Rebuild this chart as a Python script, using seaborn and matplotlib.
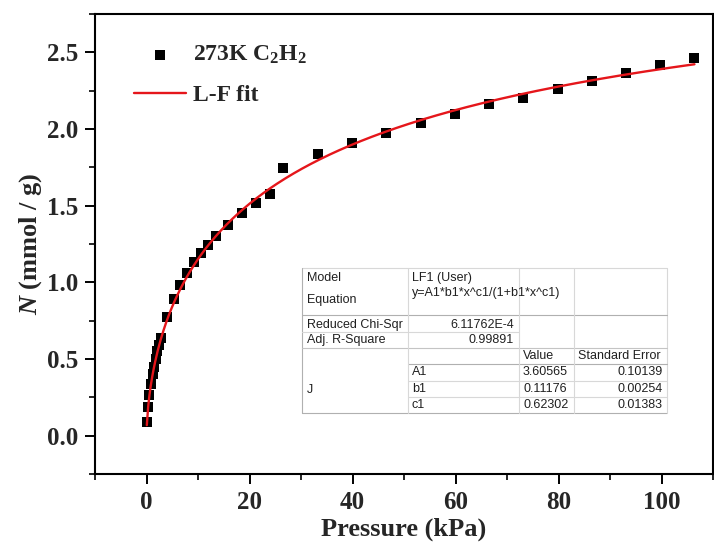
import numpy as np
import pandas as pd
import matplotlib
matplotlib.use("Agg")
import matplotlib.pyplot as plt
import seaborn as sns
from matplotlib.lines import Line2D

# C2H2 adsorption isotherm at 273 K
pressure = [0.06, 0.25, 0.52, 0.90, 1.20, 1.50, 1.80, 2.10, 2.45, 2.80,
            3.9, 5.25, 6.6, 7.95, 9.25, 10.6, 11.95, 13.4, 15.9, 18.5,
            21.3, 23.9, 26.5, 33.3, 39.9, 46.5, 53.3, 59.9, 66.5, 73.2,
            79.9, 86.6, 93.2, 99.8, 106.4]
uptake = [0.087, 0.19, 0.262, 0.34, 0.40, 0.45, 0.50, 0.55, 0.59, 0.635,
          0.773, 0.893, 0.985, 1.063, 1.133, 1.189, 1.245, 1.30, 1.376, 1.45,
          1.515, 1.575, 1.743, 1.834, 1.91, 1.976, 2.038, 2.10, 2.16, 2.205,
          2.263, 2.313, 2.363, 2.417, 2.466]

# Langmuir-Freundlich fit parameters
A1, b1, c1 = 3.60565, 0.11176, 0.62302
A1_err, b1_err, c1_err = 0.10139, 0.00254, 0.01383
chi_sqr = "6.11762E-4"
adj_r2 = "0.99891"

x_ticks = [0, 20, 40, 60, 80, 100]
y_ticks = [0.0, 0.5, 1.0, 1.5, 2.0, 2.5]

sns.set_style("ticks")
plt.rcParams["font.family"] = ["Liberation Serif", "DejaVu Serif"]
plt.rcParams["mathtext.fontset"] = "custom"
plt.rcParams["mathtext.rm"] = "Liberation Serif:bold"
plt.rcParams["mathtext.it"] = "Liberation Serif:italic:bold"
plt.rcParams["mathtext.bf"] = "Liberation Serif:bold"

W, H = 714, 549
fig = plt.figure(figsize=(W / 100, H / 100), dpi=100)
ax = fig.add_axes([95 / W, 1 - 474 / H, (713 - 95) / W, (474 - 14) / H])

df = pd.DataFrame({"P": pressure, "N": uptake})
xs = np.linspace(min(pressure), max(pressure), 400)
u = b1 * xs ** c1
fit = pd.DataFrame({"P": xs, "N": A1 * u / (1 + u)})

sns.scatterplot(data=df, x="P", y="N", marker="s", s=46, color="black",
                edgecolor="black", linewidth=0, ax=ax,
                label=r"273K C$_{2}$H$_{2}$", zorder=2)
sns.lineplot(data=fit, x="P", y="N", color="#e5161b", linewidth=1.7, ax=ax,
             label="L-F fit", zorder=3)

ax.set_xlim(-10, 110)
ax.set_ylim(-0.25, 2.75)
ax.set_xticks(x_ticks)
ax.set_yticks(y_ticks)
ax.set_yticklabels([f"{v:.1f}" for v in y_ticks])
ax.set_xticks(np.arange(-10, 111, 20), minor=True)
ax.set_yticks(np.arange(-0.25, 2.76, 0.5), minor=True)
ax.tick_params(axis="both", which="major", direction="out", length=7, width=1.4,
               labelsize=18, pad=5, color="black")
ax.tick_params(axis="both", which="minor", direction="out", length=4, width=1.2,
               color="black")
for lab in ax.get_xticklabels() + ax.get_yticklabels():
    lab.set_fontweight("bold")
for sp in ax.spines.values():
    sp.set_visible(True)
    sp.set_linewidth(1.5)
    sp.set_color("black")

ax.set_xlabel("Pressure (kPa)", fontsize=19, fontweight="bold", labelpad=3)
ax.set_ylabel(r"$N$ (mmol / g)", fontsize=19, fontweight="bold", labelpad=2)

leg = ax.legend(loc="upper left", bbox_to_anchor=(0.063, 0.935), frameon=False,
                handlelength=2.2, handletextpad=0.3,
                labelspacing=0.78, borderpad=0, borderaxespad=0,
                prop={"weight": "bold", "size": 17})


# Fit report table
def fx(x):
    return x / W


def fy(y):
    return 1 - y / H


def hline(y, x0, x1, color="#d8d8d8", lw=0.8):
    fig.add_artist(Line2D([fx(x0), fx(x1)], [fy(y), fy(y)],
                          transform=fig.transFigure, color=color, lw=lw))


def vline(x, y0, y1, color="#d8d8d8", lw=0.8):
    fig.add_artist(Line2D([fx(x), fx(x)], [fy(y0), fy(y1)],
                          transform=fig.transFigure, color=color, lw=lw))


L, R, T, B = 302, 667, 268, 413
C1, C2, C3 = 408, 519, 574
dark = "#b0b0b0"
fig.add_artist(plt.Rectangle((fx(L), fy(B)), fx(R) - fx(L), fy(T) - fy(B),
                             transform=fig.transFigure, facecolor="white",
                             edgecolor="none", zorder=0.5))
hline(T, L, R)
hline(B, L, R, dark)
vline(L, T, B, dark)
vline(R, T, B)
hline(315, L, R, dark)
hline(348, L, R, "#c4c4c4")
hline(332, L, C2)
hline(364, C1, R, dark)
hline(381, C1, R)
hline(397, C1, R)
vline(C1, T, B)
vline(C2, T, B)
vline(C3, T, B)

tkw = dict(fontsize=9, color="#202020", va="center",
           family=["Liberation Sans", "DejaVu Sans"])
fig.text(fx(307), fy(278), "Model", **tkw)
fig.text(fx(307), fy(300), "Equation", **tkw)
fig.text(fx(412), fy(278), "LF1 (User)", **tkw)
fig.text(fx(412), fy(293), "y=A1*b1*x^c1/(1+b1*x^c1)", **tkw)
fig.text(fx(307), fy(325), "Reduced Chi-Sqr", **tkw)
fig.text(fx(514), fy(325), chi_sqr, ha="right", **tkw)
fig.text(fx(307), fy(340), "Adj. R-Square", **tkw)
fig.text(fx(514), fy(340), adj_r2, ha="right", **tkw)
fig.text(fx(523), fy(356), "Value", **tkw)
fig.text(fx(578), fy(356), "Standard Error", **tkw)
fig.text(fx(307), fy(390), "J", **tkw)
rows = [("A1", A1, A1_err, 372), ("b1", b1, b1_err, 389), ("c1", c1, c1_err, 405)]
for name, val, err, yy in rows:
    fig.text(fx(412), fy(yy), name, **tkw)
    fig.text(fx(523), fy(yy), f"{val:.5f}", **tkw)
    fig.text(fx(663), fy(yy), f"{err:.5f}", ha="right", **tkw)

fig.savefig("out.png", dpi=100)
